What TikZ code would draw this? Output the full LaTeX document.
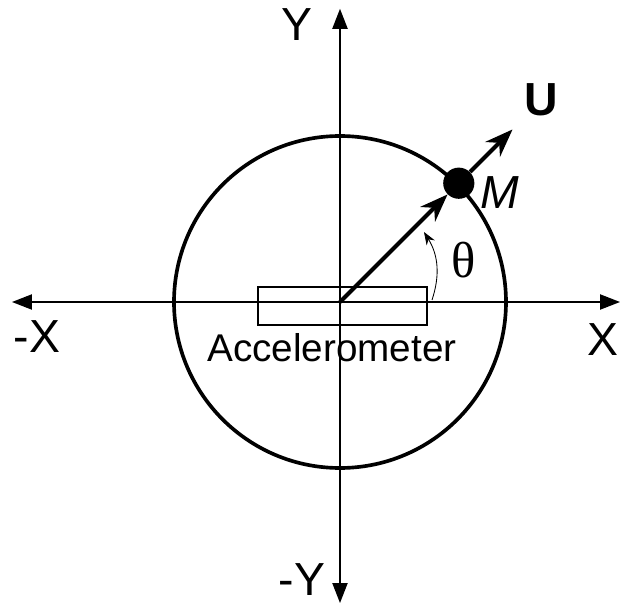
\documentclass[tikz,border=0pt]{standalone}
\usepackage{fontspec}
\setmainfont{Liberation Sans}
\newfontfamily\grkfont{Liberation Serif}
\usetikzlibrary{arrows.meta}

\begin{document}
\begin{tikzpicture}[
			axis/.style  = {line width=1.1pt, {Triangle[length=0.5cm,width=0.38cm]}-{Triangle[length=0.5cm,width=0.38cm]}},
			vec/.style   = {line width=2.8pt, -{Stealth[length=0.7cm,width=0.52cm]}},
			lbl/.style   = {font=\fontsize{33}{36}\selectfont, inner sep=0pt},
			every node/.style = {inner sep=0pt}
			]
			\useasboundingbox (-8.5,-7.575) rectangle (7.0,7.55);
			%--- end points of the axes ---
			\coordinate (o)  at (0,0);
			\coordinate (xl) at (-8.2,0);
			\coordinate (xr) at ( 7.0,0);
			\coordinate (yb) at (0,-7.525);
			\coordinate (yt) at (0, 7.33);
			
			%--- axes ---
			\draw[axis] (xl) -- (xr);
			\draw[axis] (yb) -- (yt);
			\node[lbl] (xneg) at (-7.575,-0.875) {-X};
			\node[lbl] (xpos) at ( 6.58,-0.95)   {X};
			\node[lbl] (ypos) at (-1.075, 6.925) {Y};
			\node[lbl] (yneg) at (-0.95,-6.93)   {-Y};
			
			%--- circle and sensor ---
			\draw[line width=2.6pt] (o) circle[radius=4.15];
			\node[draw, line width=1.1pt, minimum width=4.225cm, minimum height=0.95cm] (acc) at (0.0625,-0.1) {};
			\node[font=\fontsize{27.5}{30}\selectfont] (acclbl) at (-0.2,-1.15) {Accelerometer};
			
			%--- mass and vectors ---
			\node[circle, fill, minimum size=0.78cm] (m) at (45:4.2) {};
			\coordinate (u) at (45:6.1);
			\draw[vec] (o) -- (m);
			\draw[vec] (m) -- (u);
			\node[lbl, font=\fontsize{33}{36}\selectfont\bfseries] (ulbl) at (5.03,5.05) {U};
			\node[lbl, font=\fontsize{33}{36}\selectfont\itshape] (mlbl) at (4.0,2.73) {M};
			
			%--- angle ---
			\coordinate (th0) at (2.3,0.05);
			\coordinate (th1) at (2.1,1.75);
			\draw[line width=0.6pt, -{Stealth[length=0.32cm,width=0.24cm]}] (th0) to[bend right=25] (th1);
			\node[font=\fontsize{36}{40}\selectfont\grkfont] (thlbl) at (3.1,1.05) {θ};
		\end{tikzpicture}
\end{document}
